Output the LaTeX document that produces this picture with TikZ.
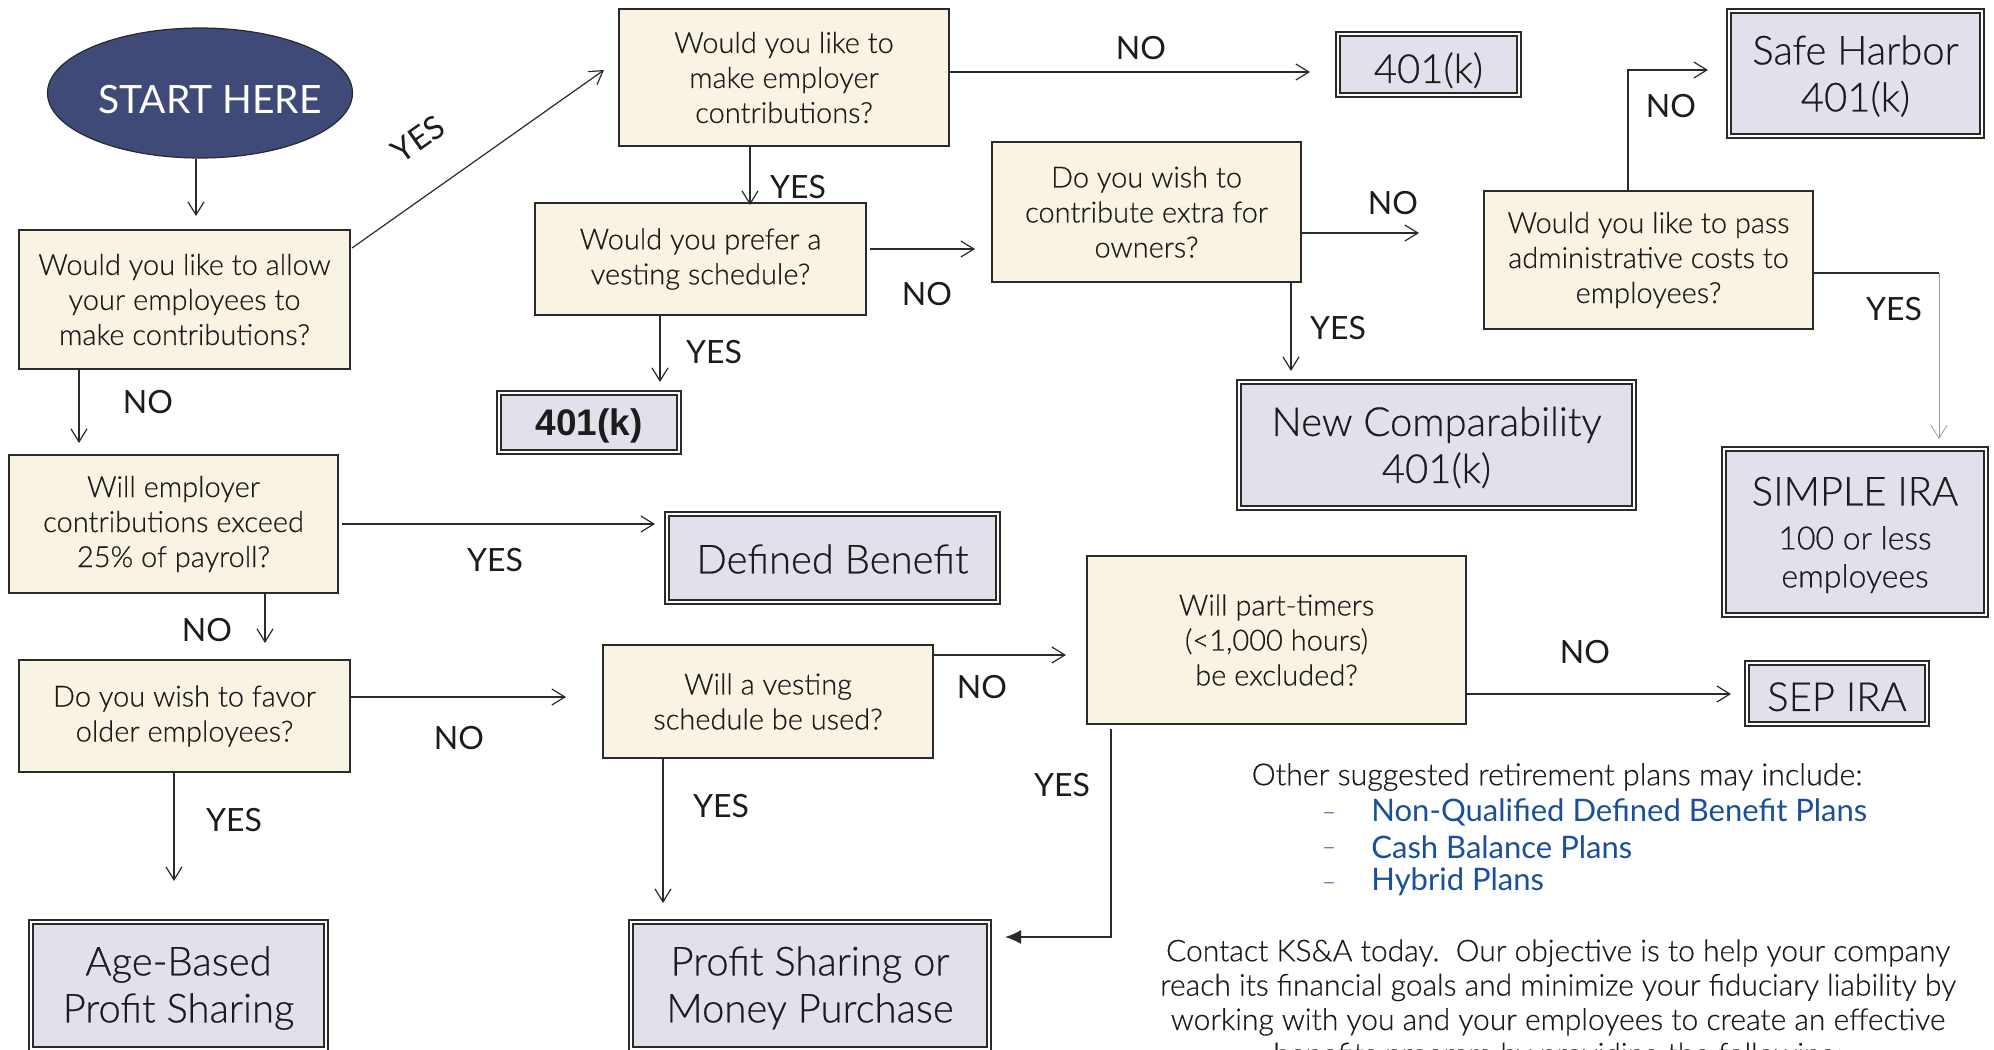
\documentclass[tikz,border=0pt]{standalone}
\usepackage{fontspec}
\IfFontExistsTF{Lato Light}{\setmainfont{Lato Light}[RawFeature={embolden=0.5}]}{\setmainfont{Lato}}
\newfontfamily\mylato{Lato}
\newfontfamily\myarial{Liberation Sans}
\usetikzlibrary{arrows.meta,calc,shapes.geometric}
\definecolor{cream}{HTML}{F8F3E3}
\definecolor{lav}{HTML}{E1E1EB}
\definecolor{startblue}{HTML}{3F4A78}
\definecolor{bd}{HTML}{2A2A2A}
\definecolor{txt}{HTML}{1E1B1C}
\definecolor{linkblue}{HTML}{1A4F9C}
\newcommand\myqfont{\fontsize{14.5}{17.5}\selectfont}
\newcommand\myrfont{\fontsize{20}{23.5}\selectfont}
\newcommand\mylabfont{\mylato\fontsize{16}{18}\selectfont}
\newcommand\mystack[2]{\raisebox{-#1}[\height][\depth]{\begin{tabular}{@{}c@{}}#2\end{tabular}}}
\begin{document}
\begin{tikzpicture}[x=0.5pt,y=-0.5pt,
  q/.style={draw=bd, fill=cream, line width=0.75pt, align=center, inner sep=0pt, font=\myqfont, text=txt},
  res/.style={draw=bd, fill=lav, line width=1.1pt, double=white, double distance=1pt, inner sep=0pt, font=\myrfont, text=txt},
  lab/.style={font=\mylabfont, text=txt, inner sep=0pt},
  arr/.style={-{Straight Barb[length=6.5pt,width=8pt]}, line width=0.6pt, draw=bd},
  grayarr/.style={-{Straight Barb[length=6.5pt,width=8pt]}, line width=0.4pt, draw=black!40},
  filledarr/.style={-{Latex[length=8pt,width=7pt]}, line width=0.7pt, draw=bd},
  plain/.style={font=\fontsize{15.2}{18}\selectfont, text=txt, inner sep=0pt, align=center}
]
\useasboundingbox (0,0) rectangle (1994,1050);
\clip (0,0) rectangle (1994,1050);
\fill[white] (0,0) rectangle (1994,1050);

% start
\node[ellipse, draw=bd, line width=0.6pt, fill=startblue, minimum width=152.5pt, minimum height=65pt, inner sep=0pt] (start) at (200,93) {};
\node[text=white, inner sep=0pt, font=\mylato\fontsize{19.5}{22}\selectfont] (starttext) at (210,100) {START HERE};

% questions
\node[q, minimum width=165.5pt, minimum height=69.5pt] (q1) at (184.5,299.5) {Would you like to allow\\your employees to\\make contributions?};
\node[q, minimum width=165pt, minimum height=68.5pt] (q2) at (784,77.5) {Would you like to\\make employer\\contributions?};
\node[q, minimum width=165.5pt, minimum height=56pt] (q3) at (700.5,259) {Would you prefer a\\vesting schedule?};
\node[q, minimum width=154.5pt, minimum height=70pt] (q4) at (1146.5,212) {Do you wish to\\contribute extra for\\owners?};
\node[q, minimum width=164.5pt, minimum height=69pt] (q5) at (1648.5,260) {Would you like to pass\\administrative costs to\\employees?};
\node[q, minimum width=164.5pt, minimum height=69pt] (q6) at (173.5,524) {Will employer\\contributions exceed\\25\% of payroll?};
\node[q, minimum width=165.5pt, minimum height=56pt] (q7) at (184.5,716) {Do you wish to favor\\older employees?};
\node[q, minimum width=165pt, minimum height=56.5pt] (q8) at (768,701.5) {Will a vesting\\schedule be used?};
\node[q, minimum width=189.5pt, minimum height=84pt] (q9) at (1276.5,640) {Will part-timers\\(<1,000 hours)\\be excluded?};

% results
\node[res, minimum width=90.5pt, minimum height=30.5pt] (r401a) at (1428.5,64.5) {\mystack{4.5pt}{401(k)}};
\node[res, minimum width=126.5pt, minimum height=62.5pt] (safe) at (1855.5,73.5) {\mystack{2.5pt}{Safe Harbor\\401(k)}};
\node[res, minimum width=197.5pt, minimum height=63pt] (newcomp) at (1436.5,445) {\mystack{2.5pt}{New Comparability\\401(k)}};
\node[res, minimum width=90pt, minimum height=29.5pt, font=\myarial\bfseries\fontsize{18.5}{20}\selectfont] (r401b) at (589,422.5) {\mystack{2.5pt}{401(k)}};
\node[res, minimum width=131pt, minimum height=83pt] (simple) at (1855,532) {\mystack{2.5pt}{SIMPLE IRA\\[-1.5pt]\fontsize{16}{19}\selectfont 100 or less\\[-4.5pt]\fontsize{16}{19}\selectfont employees}};
\node[res, minimum width=165.5pt, minimum height=44pt] (defben) at (832.5,558) {\mystack{3pt}{Defined Benefit}};
\node[res, minimum width=90pt, minimum height=30.5pt] (sep) at (1837,693.5) {\mystack{4pt}{SEP IRA}};
\node[res, minimum width=147.5pt, minimum height=63.5pt] (agebased) at (178.5,985.5) {\mystack{2pt}{Age-Based\\Profit Sharing}};
\node[res, minimum width=179pt, minimum height=63.5pt] (profit) at (810,985.5) {\mystack{2pt}{Profit Sharing or\\Money Purchase}};

% connectors
\coordinate (c0) at (196,216);
\draw[arr] (c0 |- start.south) -- (c0);

\coordinate (c1a) at (352,248);
\coordinate (c1b) at (604,70);
\draw[arr] (c1a) -- (c1b);
\node[lab, rotate=35] (l1) at (418,139) {YES};

\coordinate (c2) at (1310,72);
\draw[arr] (q2.east |- c2) -- (c2);
\node[lab] (l2) at (1141,48) {NO};

\coordinate (c3) at (750,205);
\draw[arr] (c3 |- q2.south) -- (c3);
\node[lab] (l3) at (798,187) {YES};

\coordinate (c4a) at (870,249);
\coordinate (c4b) at (975,249);
\draw[arr] (c4a) -- (c4b);
\node[lab] (l4) at (927,294) {NO};

\coordinate (c5) at (1419,233);
\draw[arr] (q4.east |- c5) -- (c5);
\node[lab] (l5) at (1393,203) {NO};

\coordinate (c6) at (1291,371);
\draw[arr] (c6 |- q4.south) -- (c6);
\node[lab] (l6) at (1338,328) {YES};

\coordinate (c7) at (660,382);
\draw[arr] (c7 |- q3.south) -- (c7);
\node[lab] (l7) at (714,352) {YES};

\coordinate (c8a) at (1628,70);
\coordinate (c8b) at (1708,70);
\draw[arr] (c8a |- q5.north) -- (c8a) -- (c8b);
\node[lab] (l8) at (1671,106) {NO};

\coordinate (c9a) at (1939,273);
\coordinate (c9b) at (1939,439);
\draw[bd, line width=0.6pt] (q5.east |- c9a) -- (c9a);
\draw[grayarr] (c9a) -- (c9b);
\node[lab] (l9) at (1894,309) {YES};

\coordinate (c10) at (79,443);
\draw[arr] (c10 |- q1.south) -- (c10);
\node[lab] (l10) at (148,402) {NO};

\coordinate (c11a) at (342,524);
\coordinate (c11b) at (655,524);
\draw[arr] (c11a) -- (c11b);
\node[lab] (l11) at (495,560) {YES};

\coordinate (c12) at (265,643);
\draw[arr] (c12 |- q6.south) -- (c12);
\node[lab] (l12) at (207,630) {NO};

\coordinate (c13) at (566,697);
\draw[arr] (q7.east |- c13) -- (c13);
\node[lab] (l13) at (459,738) {NO};

\coordinate (c14) at (174,881);
\draw[arr] (c14 |- q7.south) -- (c14);
\node[lab] (l14) at (234,820) {YES};

\coordinate (c15) at (1066,655);
\draw[arr] (q8.east |- c15) -- (c15);
\node[lab] (l15) at (982,687) {NO};

\coordinate (c16) at (663,903);
\draw[arr] (c16 |- q8.south) -- (c16);
\node[lab] (l16) at (721,806) {YES};

\coordinate (c17) at (1731,694);
\draw[arr] (q9.east |- c17) -- (c17);
\node[lab] (l17) at (1585,652) {NO};

\coordinate (c18a) at (1111,729);
\coordinate (c18b) at (1111,937);
\coordinate (c18c) at (1005,937);
\draw[filledarr] (c18a) -- (c18b) -- (c18c);
\node[lab] (l18) at (1062,785) {YES};

% side text
\node[plain] (other) at (1557,777) {Other suggested retirement plans may include:};
\foreach \yy/\tt [count=\i] in {812/Non-Qualified Defined Benefit Plans, 847/Cash Balance Plans, 882/Hybrid Plans}{
  \node[text=linkblue, inner sep=0pt, font=\fontsize{12}{14}\selectfont] (dash\i) at (1329,\yy+4) {--};
  \node[anchor=west, text=linkblue, inner sep=0pt, font=\mylato\fontsize{15.5}{18}\selectfont] (item\i) at (1371,\yy) {\tt};
}
\node[plain, font=\fontsize{15}{17.2}\selectfont, anchor=north] (para) at (1558,939) {Contact KS\&A today.\ \ Our objective is to help your company\\reach its financial goals and minimize your fiduciary liability by\\working with you and your employees to create an effective\\benefits program by providing the following:};
\end{tikzpicture}
\end{document}
